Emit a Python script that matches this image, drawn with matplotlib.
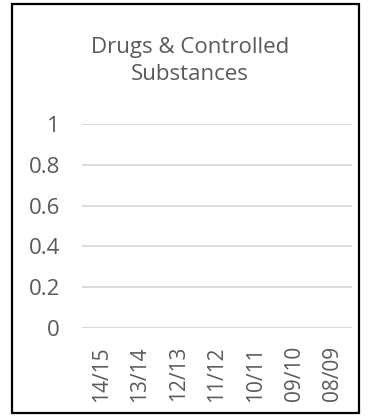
import matplotlib.pyplot as plt
from matplotlib.patches import Rectangle

seasons = ["14/15", "13/14", "12/13", "11/12", "10/11", "09/10", "08/09"]
incidents = [0, 0, 0, 0, 0, 0, 0]
yticks = [0, 0.2, 0.4, 0.6, 0.8, 1]

W, H = 373, 416
fig = plt.figure(figsize=(W / 100, H / 100), dpi=100)
plt.rcParams["font.family"] = ["Open Sans", "DejaVu Sans"]

# plot area in pixel terms
left, right, top, bottom = 82, 352, 124, 328
ax = fig.add_axes([left / W, 1 - bottom / H, (right - left) / W, (bottom - top) / H])

x = range(len(seasons))
ax.bar(x, incidents, width=0.6, color="#4472C4")

ax.set_xlim(-0.5, len(seasons) - 0.5)
ax.set_ylim(0, 1)
ax.set_yticks(yticks)
ax.set_yticklabels(["0", "0.2", "0.4", "0.6", "0.8", "1"])
ax.set_xticks(list(x))
ax.set_xticklabels(seasons, rotation=90)
ax.tick_params(axis="both", length=0, colors="#595959")
ax.tick_params(axis="y", pad=16, labelsize=16)
ax.tick_params(axis="x", pad=13, labelsize=15)
ax.grid(axis="y", color="#d9d9d9", linewidth=1.3)
ax.set_axisbelow(True)
for s in ax.spines.values():
    s.set_visible(False)
ax.axhline(0, color="#d9d9d9", linewidth=1.3)

fig.text(190 / W, 1 - 61 / H, "Drugs & Controlled\nSubstances", ha="center", va="center",
         fontsize=16, color="#595959", linespacing=1.4)

# outer chart border
fig.patches.append(Rectangle((11.5 / W, 3 / H), 347.5 / W, 409 / H, transform=fig.transFigure,
                             fill=False, edgecolor="black", linewidth=1.6))

fig.savefig("out.png", dpi=100)
